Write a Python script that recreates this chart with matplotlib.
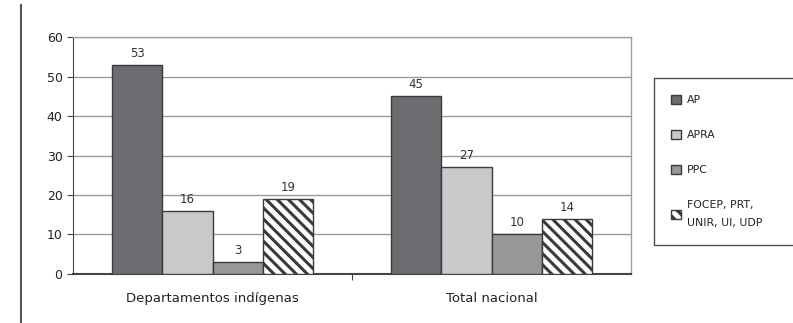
import matplotlib
matplotlib.use("Agg")
import matplotlib.pyplot as plt
from matplotlib.lines import Line2D
import numpy as np

categories = ["Departamentos indígenas", "Total nacional"]
series_names = ["AP", "APRA", "PPC", "FOCEP, PRT,\nUNIR, UI, UDP"]
values = {
    "AP": [53, 45],
    "APRA": [16, 27],
    "PPC": [3, 10],
    "FOCEP, PRT,\nUNIR, UI, UDP": [19, 14],
}
colors = ["#6d6d71", "#c9c9cc", "#97979a", "white"]
hatches = [None, None, None, "\\\\\\"]
yticks = [0, 10, 20, 30, 40, 50, 60]

plt.rcParams["font.family"] = ["DejaVu Sans"]
plt.rcParams["hatch.linewidth"] = 2.2
plt.rcParams["hatch.color"] = "#3a3a3e"

fig = plt.figure(figsize=(7.93, 3.23), dpi=100)
ax = fig.add_axes([0.092, 0.152, 0.704, 0.733])

x = np.arange(len(categories))
width = 0.18
n = len(series_names)
handles = []
for i, name in enumerate(series_names):
    pos = x + (i - (n - 1) / 2) * width
    bars = ax.bar(pos, values[name], width, color=colors[i], hatch=hatches[i],
                  edgecolor="#3a3a3e", linewidth=1.0, zorder=3, label=name)
    handles.append(bars)
    for xp, v in zip(pos, values[name]):
        ax.text(xp, v + 1.3, f"{v}", ha="center", va="bottom",
                fontsize=8.5, color="#333333")

ax.set_xlim(-0.5, 1.5)
ax.set_ylim(0, 60)
ax.set_yticks(yticks)
ax.tick_params(axis="y", labelsize=9, length=4, color="#444444", labelcolor="#222222")
ax.set_xticks([0.5])
ax.set_xticklabels([""])
ax.tick_params(axis="x", length=4, color="#444444")
for xc, lab in zip(x, categories):
    ax.text(xc, -0.075, lab, transform=ax.get_xaxis_transform(), ha="center",
            va="top", fontsize=9.5, color="#222222")

ax.yaxis.grid(True, color="#9a9a9a", linewidth=1.0, zorder=0)
ax.set_axisbelow(True)
for side in ["top", "right"]:
    ax.spines[side].set_color("#a0a0a0")
    ax.spines[side].set_linewidth(1.0)
ax.spines["left"].set_color("#444444")
ax.spines["bottom"].set_color("#444444")
ax.spines["bottom"].set_linewidth(1.5)

leg = fig.legend(handles=handles, labels=series_names, loc="upper left",
                 bbox_to_anchor=(0.818, 0.775, 0.19, 0.0), mode="expand",
                 frameon=True, fancybox=False,
                 edgecolor="#222222", fontsize=7.8, handlelength=0.9,
                 handleheight=0.9, labelspacing=2.3, borderpad=1.55,
                 handletextpad=0.6)
leg.get_frame().set_linewidth(1.0)
for t in leg.get_texts():
    t.set_linespacing(2.0)
    t.set_color("#222222")

fig.add_artist(Line2D([0.026, 0.026], [0.0, 0.985], transform=fig.transFigure,
                      color="#555555", linewidth=1.5))

fig.savefig("out.png", dpi=100)
